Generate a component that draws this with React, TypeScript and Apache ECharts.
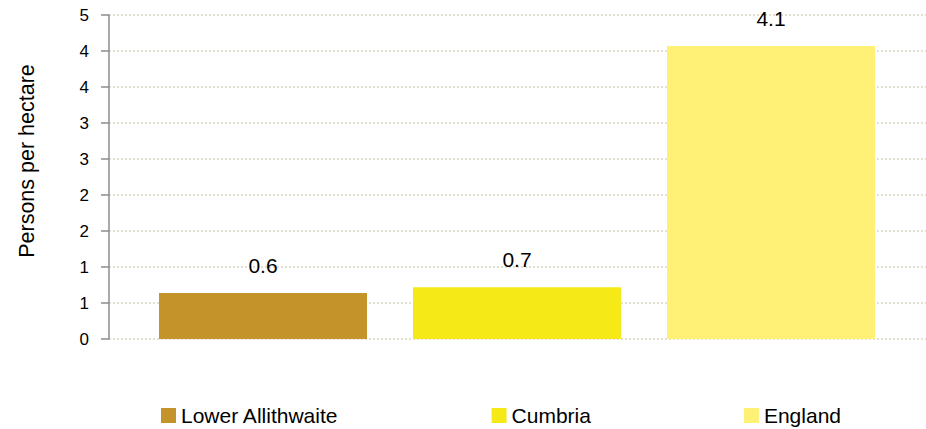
import React, { useEffect, useRef } from "react";
import * as echarts from "echarts";

const categories = ["Lower Allithwaite", "Cumbria", "England"];
const values = [0.64, 0.72, 4.07];
const colors = ["#c4942b", "#f5ea17", "#fef175"];
const yTickLabels = ["0", "1", "1", "2", "2", "3", "3", "4", "4", "5"];
const yMax = 4.5;
const yStep = 0.5;
const yTitle = "Persons per hectare";

const FONT = "'Liberation Sans', Arial, sans-serif";

export default function App() {
  const ref = useRef<HTMLDivElement>(null);
  useEffect(() => {
    document.body.style.margin = "0";
    const chart = echarts.init(ref.current!, null, { renderer: "svg" });
    const series = categories.map((name, i) => ({
      name,
      type: "bar",
      xAxisIndex: 1,
      yAxisIndex: 1,
      barWidth: 208,
      barGap: "-100%",
      itemStyle: { color: colors[i] },
      data: categories.map((_, j) => (j === i ? values[i] : "-")),
      label: {
        show: true,
        position: "top",
        distance: 17,
        fontSize: 21,
        fontFamily: FONT,
        color: "#000",
        formatter: (p: any) => Number(p.value).toFixed(1),
      },
    }));
    chart.setOption({
      animation: false,
      textStyle: { fontFamily: FONT },
      grid: [
        { left: 109, right: 0, top: 15, bottom: 90 },
        { left: 136, right: 28, top: 15, bottom: 90 },
      ],
      xAxis: [
        { type: "category", gridIndex: 0, data: [""], show: false },
        { type: "category", gridIndex: 1, data: categories, show: false },
      ],
      yAxis: [
        {
          type: "value",
          gridIndex: 0,
          min: 0,
          max: yMax,
          interval: yStep,
          axisLine: { show: true, lineStyle: { color: "#8c8c8c", width: 1.5 } },
          axisTick: { show: true, length: 8, lineStyle: { color: "#8c8c8c", width: 1.5 } },
          axisLabel: {
            margin: 20,
            fontSize: 17,
            fontFamily: FONT,
            color: "#000",
            formatter: (v: number) => yTickLabels[Math.round(v / yStep)] ?? "",
          },
          splitLine: {
            show: true,
            lineStyle: { color: "#dcd6c0", width: 1.5, type: [2, 2] },
          },
        },
        {
          type: "value",
          gridIndex: 1,
          min: 0,
          max: yMax,
          interval: yStep,
          show: false,
          splitLine: { show: false },
        },
      ],
      legend: {
        left: 161,
        top: 405,
        padding: 0,
        itemWidth: 15,
        itemHeight: 15,
        itemGap: 153,
        icon: "rect",
        data: categories,
        textStyle: { fontSize: 21, fontFamily: FONT, color: "#000" },
      },
      graphic: [
        {
          type: "text",
          x: 27,
          y: 161,
          rotation: Math.PI / 2,
          style: {
            text: yTitle,
            fontSize: 21.5,
            fontFamily: FONT,
            fill: "#000",
            align: "center",
            verticalAlign: "middle",
          },
        },
      ],
      series,
    });
    return () => chart.dispose();
  }, []);
  return <div ref={ref} style={{ width: 926, height: 429 }} />;
}
